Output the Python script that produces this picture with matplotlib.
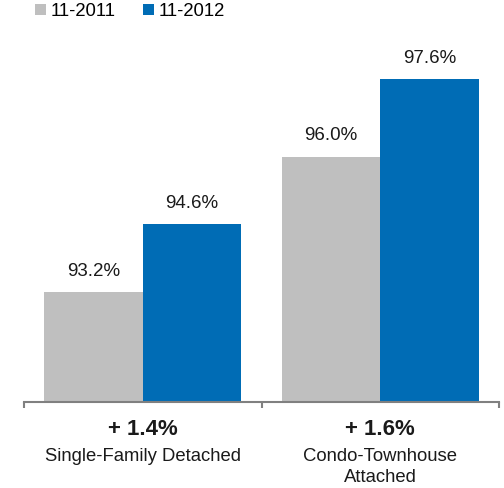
import matplotlib.pyplot as plt
import numpy as np

plt.rcParams['font.family'] = ['Liberation Sans', 'DejaVu Sans']

categories = ['Single-Family Detached', 'Condo-Townhouse\nAttached']
changes = ['+ 1.4%', '+ 1.6%']
series = ['11-2011', '11-2012']
vals_2011 = [93.2, 96.0]
vals_2012 = [94.6, 97.6]

gray = '#bfbfbf'
blue = '#006cb5'

fig = plt.figure(figsize=(5.04, 4.88), dpi=100)
ax = fig.add_axes([24/504, 86/488, 475/504, 372/488])

x = np.arange(len(categories))
w = 0.415
b1 = ax.bar(x - w/2, vals_2011, w, color=gray, label=series[0])
b2 = ax.bar(x + w/2, vals_2012, w, color=blue, label=series[1])

for bars in (b1, b2):
    for r in bars:
        ax.annotate(f"{r.get_height():.1f}%",
                    (r.get_x() + r.get_width()/2, r.get_height()),
                    xytext=(0, 9), textcoords='offset points',
                    ha='center', va='bottom', fontsize=13.5, color='#1a1a1a')

ax.set_ylim(90.93, 98.62)
ax.set_xlim(-0.5, 1.5)

# axis styling
for s in ('top', 'right', 'left'):
    ax.spines[s].set_visible(False)
ax.spines['bottom'].set_color('#808080')
ax.spines['bottom'].set_linewidth(1.5)
ax.set_yticks([])
ax.set_xticks([-0.5, 0.5, 1.5])
ax.set_xticklabels([])
ax.tick_params(axis='x', direction='out', length=4, width=1.5, color='#808080')

# category labels under axis
for xi, ch, cat in zip(x, changes, categories):
    ax.annotate(ch, (xi, 0), xycoords=('data', 'axes fraction'),
                xytext=(0, -12), textcoords='offset points',
                ha='center', va='top', fontsize=16, fontweight='bold', color='#1a1a1a')
    ax.annotate(cat, (xi, 0), xycoords=('data', 'axes fraction'),
                xytext=(0, -33), textcoords='offset points',
                ha='center', va='top', fontsize=13.3, color='#1a1a1a', linespacing=1.35)

fig.legend(handles=[b1, b2], labels=series, loc='upper left',
           bbox_to_anchor=(35/504, 1 - 3/488), ncol=2, frameon=False,
           fontsize=13.3, handlelength=0.6, handleheight=0.6,
           handletextpad=0.25, columnspacing=1.5, borderaxespad=0.0,
           borderpad=0.0)

fig.savefig('out.png', dpi=100)
